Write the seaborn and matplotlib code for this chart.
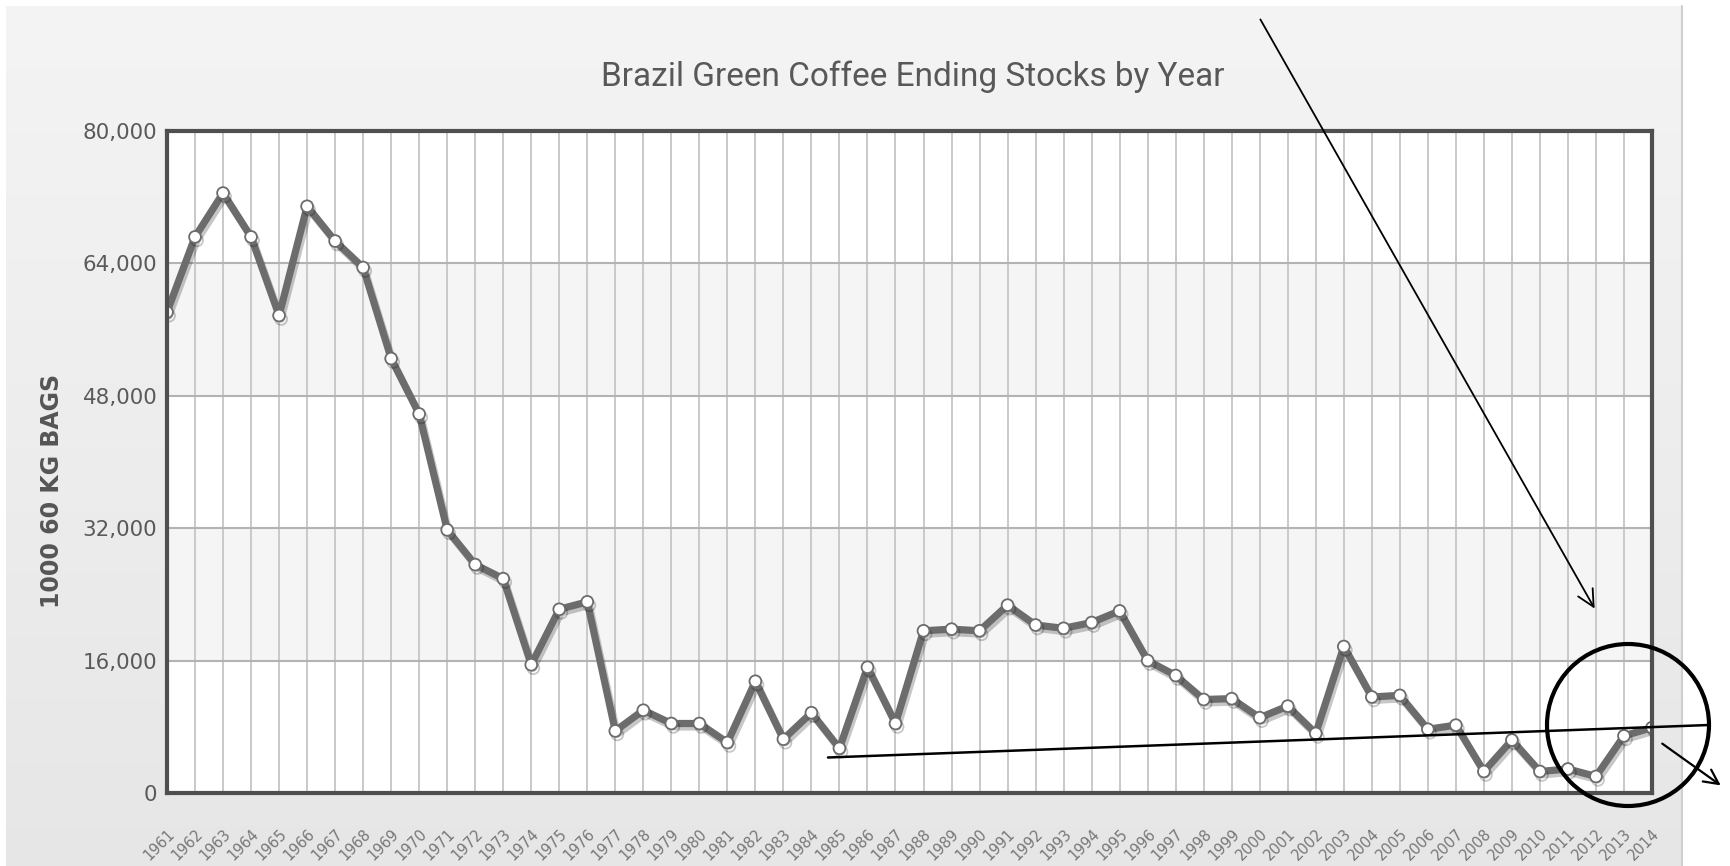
import numpy as np
import pandas as pd
import matplotlib
matplotlib.use("Agg")
import matplotlib.pyplot as plt
import matplotlib.patheffects as pe
from matplotlib.patches import Circle, FancyArrowPatch
from matplotlib.lines import Line2D
from matplotlib.transforms import Affine2D
from matplotlib.ticker import FuncFormatter
import seaborn as sns

# ---- data -------------------------------------------------------------
years = [str(y) for y in range(1961, 2015)]
ending_stocks = [
    58100, 67200, 72500, 67200, 57700, 70900, 66700, 63500, 52500, 45800,
    31800, 27600, 25900, 15500, 22200, 23100, 7500, 10000, 8400, 8400,
    6100, 13500, 6500, 9700, 5400, 15200, 8400, 19600, 19800, 19600,
    22700, 20300, 19900, 20600, 22000, 16000, 14200, 11300, 11400, 9100,
    10500, 7200, 17700, 11600, 11800, 7700, 8200, 2600, 6400, 2600,
    2900, 2000, 6900, 7900,
]
y_ticks = [0, 16000, 32000, 48000, 64000, 80000]
title = "Brazil Green Coffee Ending Stocks by Year"
y_label = "1000 60 KG BAGS"

df = pd.DataFrame({"pos": np.arange(len(years)), "year": years,
                   "stocks": ending_stocks})

# ---- figure -----------------------------------------------------------
W, H, DPI = 1731, 866, 100
sns.set_theme(style="white")
plt.rcParams["font.family"] = ["DejaVu Sans"]

fig = plt.figure(figsize=(W / DPI, H / DPI), dpi=DPI, facecolor="white")
# pixel coordinates measured from the top-left corner
px = Affine2D().scale(1, -1).translate(0, H)

# soft grey canvas behind the chart
bg = fig.add_axes([0, 0, 1, 1], zorder=-10)
bg.set_xlim(0, W)
bg.set_ylim(H, 0)
bg.axis("off")
grad = np.linspace(0.953, 0.900, 256).reshape(-1, 1)
bg.imshow(grad, extent=(6, 1682, H, 6), aspect="auto", cmap="gray",
          vmin=0, vmax=1, interpolation="bilinear")
bg.plot([1682, 1682], [6, H], color="#cfcfcf", lw=1.5)

# ---- main plot --------------------------------------------------------
left, right, top, bottom = 167, 1652, 131, 793
ax = fig.add_axes([left / W, (H - bottom) / H, (right - left) / W,
                   (bottom - top) / H])
ax.set_facecolor("white")
for lo in (16000, 48000):
    ax.axhspan(lo, lo + 16000, color="#f5f5f5", lw=0, zorder=0)

sns.lineplot(data=df, x="pos", y="stocks", ax=ax, color="#6c6c6c",
             lw=5.2, marker="o", markersize=8.5, markerfacecolor="white",
             markeredgecolor="#6c6c6c", markeredgewidth=1.3, zorder=5,
             path_effects=[pe.SimpleLineShadow(offset=(1.5, -2.5),
                                               shadow_color="#000000",
                                               alpha=0.22),
                           pe.Normal()])

ax.set_xlim(0, len(years) - 1)
ax.set_ylim(y_ticks[0], y_ticks[-1])
ax.set_yticks(y_ticks)
ax.yaxis.set_major_formatter(FuncFormatter(lambda v, _: f"{v:,.0f}"))
ax.set_xticks(df["pos"])
ax.set_xticklabels(df["year"], rotation=45, ha="right", va="top",
                   rotation_mode="anchor")
ax.set_axisbelow(True)
ax.grid(axis="x", color="#c9c9c9", lw=1.4)
ax.grid(axis="y", color="#b3b3b3", lw=1.5)
ax.tick_params(axis="y", length=0, pad=7, labelsize=15.4,
               labelcolor="#5a5a5a")
ax.tick_params(axis="x", length=0, pad=24, labelsize=10.5,
               labelcolor="#777777")
ax.set_xlabel("")
ax.set_ylabel("")
for sp in ax.spines.values():
    sp.set_color("#4f4f4f")
    sp.set_linewidth(3)
    sp.set_zorder(6)

# ---- titles -----------------------------------------------------------
fig.text(913 / W, 1 - 77 / H, title, ha="center", va="center",
         fontsize=24, color="#585858",
         family=["Roboto", "DejaVu Sans"])
fig.text(52 / W, 1 - 491 / H, y_label, rotation=90, ha="center",
         va="center", fontsize=17, fontweight="bold", color="#555555")

# ---- hand-drawn callouts ----------------------------------------------
callout = dict(transform=px, color="black")
fig.add_artist(FancyArrowPatch((1259, 17), (1596, 611), arrowstyle="->",
                               mutation_scale=30, lw=1.3, **callout))
fig.add_artist(Circle((1628, 725), 81, fill=False, lw=3, **callout))
fig.add_artist(Line2D([828, 1709], [757.5, 725], lw=1.8, **callout))
fig.add_artist(FancyArrowPatch((1660, 742), (1723, 787), arrowstyle="->",
                               mutation_scale=26, lw=1.6, **callout))

fig.savefig("out.png", dpi=DPI, facecolor="white")
